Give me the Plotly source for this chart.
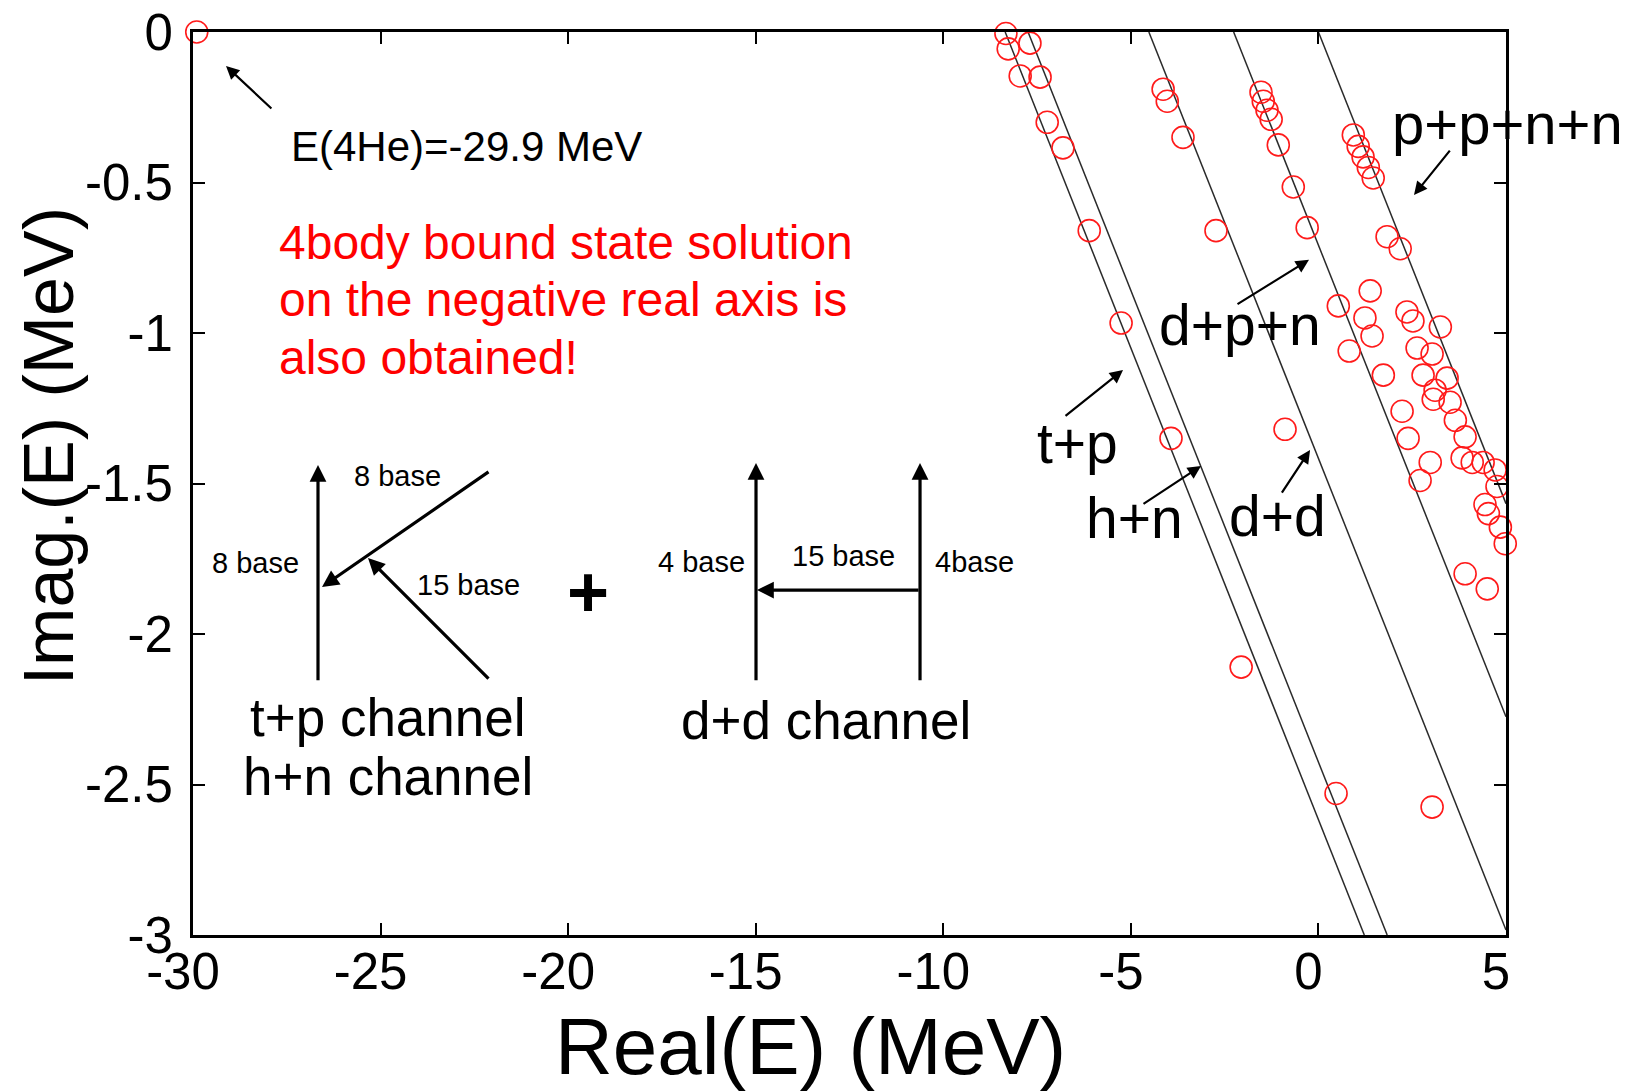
import numpy as np
import plotly.graph_objects as go

# ---- data ---------------------------------------------------------------
# 4He bound state on the negative real axis (MeV)
bound_re = [-29.9]
bound_im = [0.0]

# complex-scaled continuum eigenvalues (MeV)
eig_re = [
    -8.33, -8.27, -7.69, -7.95, -7.42, -7.23, -6.81, -6.11, -5.26, -3.93, -2.06, 0.47,
    -4.14, -4.03, -3.61, -2.73, -0.89, 3.03,
    -1.53, -1.47, -1.37, -1.26, -1.07, -0.67, -0.30, 0.53, 0.82, 1.38, 1.24, 1.43,
    1.73, 2.23, 2.39, 2.98, 2.71, 3.91, 4.50,
    0.93, 1.06, 1.19, 1.33, 1.46, 1.83, 2.18, 2.36, 2.52, 3.25, 2.63, 3.03, 2.79,
    3.43, 3.11, 3.06, 3.51, 3.65, 3.91, 3.83, 4.10, 4.39, 4.71, 4.76, 5.03, 4.44,
    4.53, 4.85, 4.98,
]
eig_im = [
    -0.005, -0.056, -0.037, -0.146, -0.150, -0.30, -0.385, -0.66, -0.967, -1.35, -2.11, -2.53,
    -0.19, -0.23, -0.35, -0.66, -1.32, -2.575,
    -0.20, -0.23, -0.26, -0.29, -0.375, -0.515, -0.65, -0.91, -1.06, -0.86, -0.95, -1.01,
    -1.14, -1.26, -1.35, -1.43, -1.49, -1.80, -1.85,
    -0.342, -0.38, -0.415, -0.45, -0.485, -0.68, -0.72, -0.93, -0.96, -0.98, -1.05, -1.07, -1.14,
    -1.15, -1.19, -1.22, -1.23, -1.29, -1.345, -1.415, -1.43, -1.43, -1.455, -1.51, -1.58, -1.57,
    -1.60, -1.645, -1.70,
]

# break-up thresholds (MeV) and rotation of the continua (2*theta, degrees)
channels = ["t+p", "h+n", "d+d", "d+p+n", "p+p+n+n"]
thresholds = [-8.35, -7.74, -4.52, -2.26, 0.0]
two_theta_deg = 17.4

x_ticks = [-30, -25, -20, -15, -10, -5, 0, 5]
x_ticklabels = ["-30", "-25", "-20", "-15", "-10", "-5", "0", "5"]
y_ticks = [0, -0.5, -1, -1.5, -2, -2.5, -3]
y_ticklabels = ["0", "-0.5", "-1", "-1.5", "-2", "-2.5", "-3"]

X_RANGE = [-30, 5]
Y_RANGE = [-3, 0]

SANS = "Liberation Sans, Arial, Helvetica, sans-serif"

fig = go.Figure()

# rotated continuum lines, running from each threshold until they leave the frame
slope = np.tan(np.radians(two_theta_deg))
for name, e0 in zip(channels, thresholds):
    x_end = min(X_RANGE[1], e0 + (Y_RANGE[1] - Y_RANGE[0]) / slope)
    xs = np.array([e0, x_end])
    ys = -(xs - e0) * slope
    fig.add_trace(go.Scatter(
        x=xs, y=ys, mode="lines", name=name,
        line=dict(color="#2a2a2a", width=1.5),
        hoverinfo="skip", showlegend=False,
    ))

circle = dict(symbol="circle-open", size=22, color="#ff1a1a",
              line=dict(width=1.6, color="#ff1a1a"))
fig.add_trace(go.Scatter(x=eig_re, y=eig_im, mode="markers", name="eigenvalues",
                         marker=circle, cliponaxis=False, showlegend=False))
fig.add_trace(go.Scatter(x=bound_re, y=bound_im, mode="markers", name="4He",
                         marker=circle, cliponaxis=False, showlegend=False))

annotations = []


def text(x, y, s, size, color="black", xanchor="center", xref="x", yref="y"):
    annotations.append(dict(
        x=x, y=y, xref=xref, yref=yref, text=s, showarrow=False,
        xanchor=xanchor, yanchor="middle",
        font=dict(size=size, color=color, family=SANS),
    ))


def arrow(x_tail, y_tail, x_tip, y_tip, width=2.2, head=2, hsize=1.2):
    annotations.append(dict(
        x=x_tip, y=y_tip, ax=x_tail, ay=y_tail,
        xref="x", yref="y", axref="x", ayref="y",
        text="", showarrow=True, arrowhead=head, arrowsize=hsize,
        arrowwidth=width, arrowcolor="black", standoff=0, startstandoff=0,
    ))


# bound-state label
text(-22.70, -0.379, "E(4He)=-29.9 MeV", 42)
arrow(-27.87, -0.259, -29.12, -0.113, width=2.2)

# red remark
text(-27.76, -0.698, "4body bound state solution", 48, color="#ff0000", xanchor="left")
text(-27.76, -0.890, "on the negative real axis is", 48, color="#ff0000", xanchor="left")
text(-27.76, -1.080, "also obtained!", 48, color="#ff0000", xanchor="left")

# channel labels on the continuum lines
text(1.0015, 0.8992, "p+p+n+n", 58, xref="paper", yref="paper")
arrow(3.535, -0.389, 2.548, -0.5415)
text(-2.09, -0.973, "d+p+n", 57)
arrow(-2.197, -0.907, -0.251, -0.757)
text(-6.41, -1.365, "t+p", 57)
arrow(-6.782, -1.279, -5.209, -1.123)
text(-4.916, -1.615, "h+n", 57)
arrow(-4.703, -1.571, -3.13, -1.442)
text(-1.104, -1.608, "d+d", 57)
arrow(-1.0, -1.535, -0.224, -1.389)

# basis-coupling sketch: t+p / h+n channel
arrow(-26.668, -2.159, -26.668, -1.4385, width=3.2, hsize=1.05)
arrow(-22.083, -1.458, -26.561, -1.844, width=3.2, hsize=1.05)
arrow(-22.083, -2.153, -25.335, -1.7475, width=3.2, hsize=1.05)
text(-24.562, -1.475, "8 base", 29)
text(-28.347, -1.764, "8 base", 29)
text(-22.669, -1.837, "15 base", 29)
text(-24.802, -2.279, "t+p channel", 53)
text(-24.802, -2.475, "h+n channel", 53)
text(-19.47, -1.860, "<b>+</b>", 72)

# basis-coupling sketch: d+d channel
arrow(-14.992, -2.159, -14.992, -1.432, width=3.2, hsize=1.05)
arrow(-10.620, -2.159, -10.620, -1.432, width=3.2, hsize=1.05)
arrow(-10.620, -1.854, -14.966, -1.854, width=3.2, hsize=1.05)
text(-16.458, -1.761, "4 base", 29)
text(-12.673, -1.741, "15 base", 29)
text(-9.181, -1.761, "4base", 29)
text(-13.126, -2.286, "d+d channel", 53)

# axis titles
annotations.append(dict(
    x=0.470, y=-0.124, xref="paper", yref="paper", text="Real(E) (MeV)",
    showarrow=False, xanchor="center", yanchor="middle",
    font=dict(size=80, color="black", family=SANS),
))
annotations.append(dict(
    x=-0.109, y=0.541, xref="paper", yref="paper", text="Imag.(E) (MeV)",
    showarrow=False, xanchor="center", yanchor="middle", textangle=-90,
    font=dict(size=70, color="black", family=SANS),
))

axis_common = dict(
    showline=True, linewidth=3, linecolor="black", mirror="ticks",
    ticks="inside", ticklen=12, tickwidth=2, tickcolor="black",
    showgrid=False, zeroline=False, automargin=False,
    tickfont=dict(size=51, color="black", family=SANS),
)

fig.update_layout(
    width=1633, height=1091, autosize=False,
    margin=dict(l=193, r=127, t=32, b=156),
    paper_bgcolor="white", plot_bgcolor="white",
    xaxis=dict(range=X_RANGE, tickmode="array", tickvals=x_ticks, ticktext=x_ticklabels,
               ticklabelstandoff=-10, ticklabelshift=-10, **axis_common),
    yaxis=dict(range=Y_RANGE, tickmode="array", tickvals=y_ticks, ticktext=y_ticklabels,
               ticklabelstandoff=7, **axis_common),
    annotations=annotations,
    showlegend=False,
)

fig.write_html("out.html")
